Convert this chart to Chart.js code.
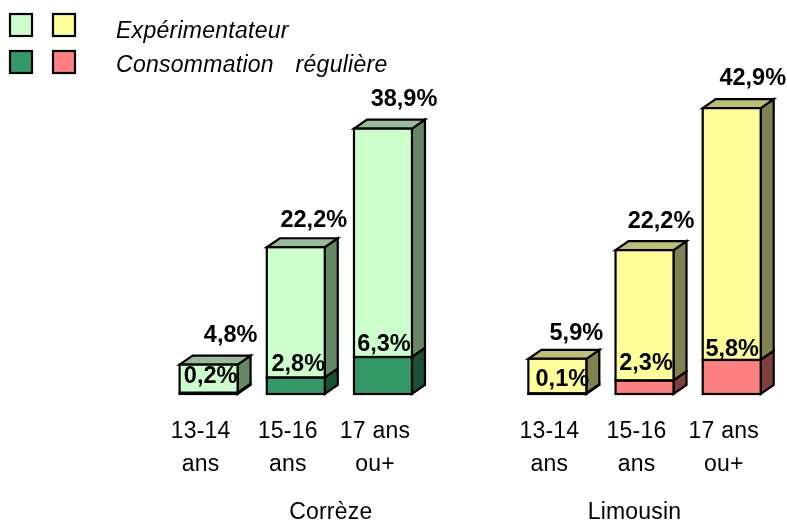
<!DOCTYPE html>
<html><head><meta charset="utf-8">
<style>html,body{margin:0;padding:0;background:#fff}canvas{display:block;filter:blur(0.35px)}</style>
<script src="https://cdn.jsdelivr.net/npm/chart.js@4"></script>
</head><body><canvas id="c" width="787" height="522"></canvas>
<script>
const categories = [['13-14','ans'],['15-16','ans'],['17 ans','ou+'],'',['13-14','ans'],['15-16','ans'],['17 ans','ou+']];
const regularValues = [0.2,2.8,6.3,null,0.1,2.3,5.8];
const experimentValues = [4.8,22.2,38.9,null,5.9,22.2,42.9];
const groupNames = ['Corrèze','Limousin'];
const seriesNames = ['Expérimentateur','Consommation régulière'];
const lightColors = ['#CCFFCC','#CCFFCC','#CCFFCC','#000','#FFFF99','#FFFF99','#FFFF99'];
const darkColors = ['#339966','#339966','#339966','#000','#FF8080','#FF8080','#FF8080'];
const lightSide = ['#668866','#668866','#668866','#000','#808050','#808050','#808050'];
const lightTop = ['#99BB99','#99BB99','#99BB99','#000','#BFBF73','#BFBF73','#BFBF73'];
const darkSide = ['#1A5033','#1A5033','#1A5033','#000','#804040','#804040','#804040'];
const fmt = v => v.toFixed(1).replace('.',',') + '%';
const topOffsets = [[22,-29],[18,-27],[21,-29],null,[19,-25],[16.5,-29],[21,-30]];
const lowOffsets = [[2,-16],[2.5,-13],[1,-13],null,[5,-14],[1.5,-17],[0.5,-10]];
const FONT='"Liberation Sans",Arial,sans-serif';
const DX=13, DY=9;

const decor = {
  id:'decor',
  beforeDraw(chart){ chart.ctx.letterSpacing='0.2px'; },
  beforeDatasetsDraw(chart){
    const ctx=chart.ctx;
    ctx.save();
    ctx.strokeStyle='#000';ctx.lineWidth=2.2;ctx.lineJoin='miter';
    const poly=(pts,fill)=>{ctx.beginPath();pts.forEach((p,i)=>i?ctx.lineTo(p[0],p[1]):ctx.moveTo(p[0],p[1]));ctx.closePath();ctx.fillStyle=fill;ctx.fill();ctx.stroke();};
    const low=chart.getDatasetMeta(0).data, up=chart.getDatasetMeta(1).data;
    up.forEach((u,i)=>{
      if(experimentValues[i]==null) return;
      const l=low[i], r=u.x+u.width/2, lf=u.x-u.width/2;
      poly([[r,u.y],[r+DX,u.y-DY],[r+DX,u.base-DY],[r,u.base]],lightSide[i]);
      poly([[r,l.y],[r+DX,l.y-DY],[r+DX,l.base-DY],[r,l.base]],darkSide[i]);
      poly([[lf,u.y],[lf+DX,u.y-DY],[r+DX,u.y-DY],[r,u.y]],lightTop[i]);
    });
    ctx.restore();
  },
  afterDatasetsDraw(chart){
    const ctx=chart.ctx, xs=chart.scales.x;
    ctx.save();
    const low=chart.getDatasetMeta(0).data, up=chart.getDatasetMeta(1).data;
    ctx.strokeStyle='#000';ctx.lineWidth=2.2;
    [low,up].forEach(meta=>meta.forEach((b,i)=>{
      if(experimentValues[i]==null) return;
      ctx.strokeRect(b.x-b.width/2,b.y,b.width,b.base-b.y);
    }));
    ctx.letterSpacing='0px';
    ctx.fillStyle='#000';ctx.textAlign='center';ctx.textBaseline='middle';
    ctx.font='bold 23.5px '+FONT;
    up.forEach((u,i)=>{
      if(experimentValues[i]==null) return;
      ctx.fillText(fmt(experimentValues[i]),u.x+topOffsets[i][0],u.y+topOffsets[i][1]);
      ctx.fillText(fmt(regularValues[i]),u.x+lowOffsets[i][0],low[i].y+lowOffsets[i][1]);
    });
    ctx.letterSpacing='0.2px';
    ctx.font='23px '+FONT;
    ctx.fillText(groupNames[0],xs.getPixelForValue(1)+35,513);
    ctx.fillText(groupNames[1],xs.getPixelForValue(5)-10,513);
    const sw=(x,y,c)=>{ctx.fillStyle=c;ctx.fillRect(x,y,22,22);ctx.strokeStyle='#000';ctx.lineWidth=2.2;ctx.strokeRect(x,y,22,22);};
    sw(10,14,lightColors[0]);sw(53,14,lightColors[4]);
    sw(10,51,darkColors[0]);sw(53,51,darkColors[4]);
    ctx.fillStyle='#000';ctx.textAlign='left';ctx.textBaseline='alphabetic';
    ctx.font='italic 23px '+FONT;
    ctx.letterSpacing='0.27px';
    ctx.wordSpacing='15px';
    ctx.fillText(seriesNames[0],116,38);
    ctx.fillText(seriesNames[1],116,72);
    ctx.restore();
  }
};

new Chart(document.getElementById('c'),{
  type:'bar',
  data:{labels:categories,datasets:[
    {label:seriesNames[1],data:regularValues,backgroundColor:darkColors,borderWidth:0},
    {label:seriesNames[0],data:experimentValues,backgroundColor:lightColors,borderWidth:0}
  ]},
  options:{
    responsive:false,animation:false,
    events:[],
    layout:{padding:{left:165,right:11.7,top:41.8,bottom:28}},
    datasets:{bar:{barPercentage:0.665,categoryPercentage:1}},
    plugins:{legend:{display:false},tooltip:{enabled:false},title:{display:false}},
    scales:{
      x:{stacked:true,grid:{display:false},border:{display:false},
         afterFit(s){s.height=100;},
         ticks:{autoSkip:false,maxRotation:0,minRotation:0,padding:13,labelOffset:-8,color:'#000',font:{family:FONT,size:23,lineHeight:'33px'}}},
      y:{stacked:true,display:false,min:0,max:60}
    }
  },
  plugins:[decor]
});
</script></body></html>
